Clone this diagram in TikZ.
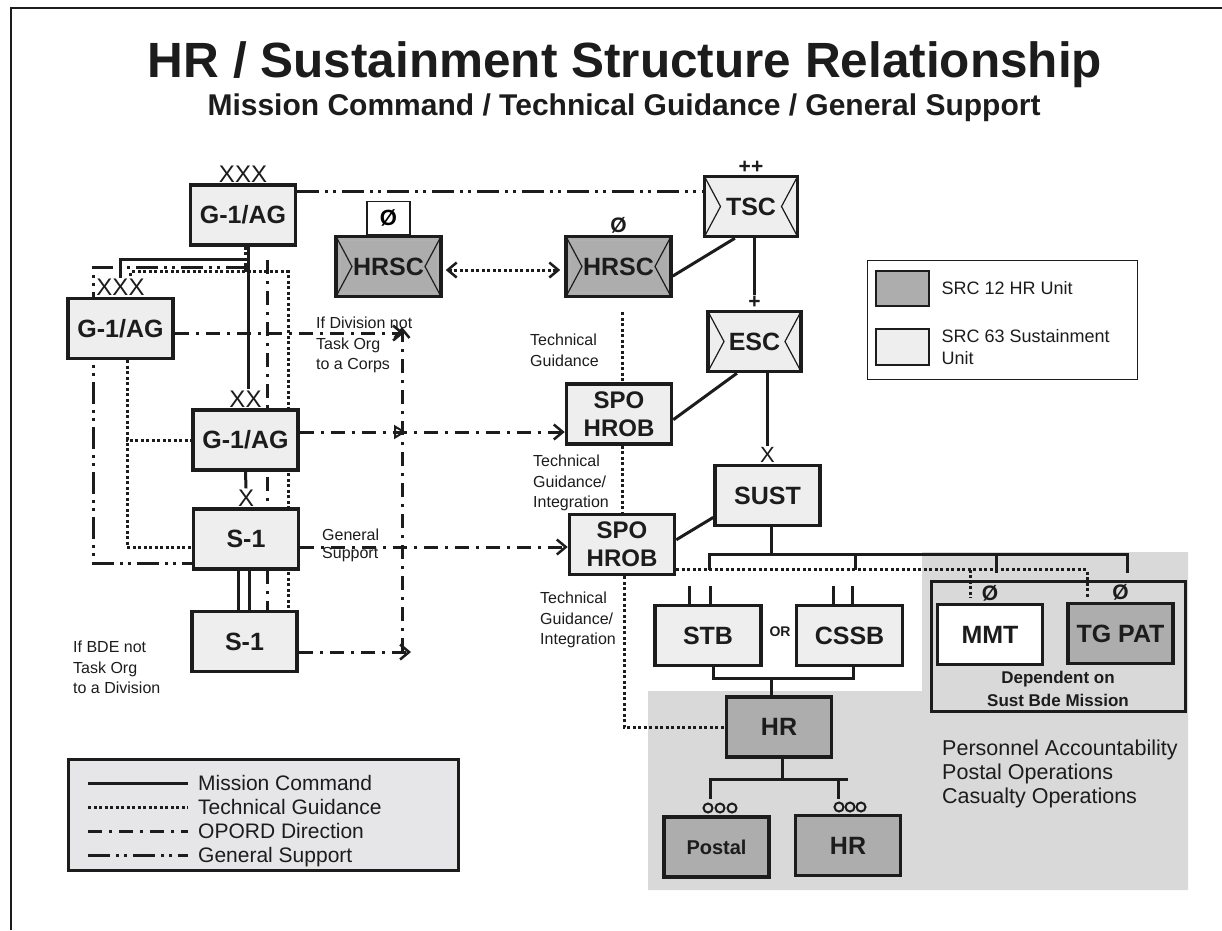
\documentclass[tikz,border=0pt]{standalone}
\usepackage{fontspec}
\setmainfont{Liberation Sans}
\usetikzlibrary{arrows.meta,positioning}
\definecolor{ink}{HTML}{1C1C1C}
\definecolor{boxlight}{HTML}{EEEEEE}
\definecolor{boxdark}{HTML}{ADADAD}
\definecolor{areagray}{HTML}{D9D9DA}
\definecolor{legfill}{HTML}{E6E6E8}
\pgfdeclarelayer{area}
\pgfdeclarelayer{links}
\pgfsetlayers{area,links,main}
\tikzset{
  >={Straight Barb[length=9pt,width=15pt,line width=2.5pt]},
  unit/.style={draw=ink,line width=3.5pt,fill=boxlight,text=ink,minimum width=105pt,minimum height=60pt,inner sep=0pt,align=center,font=\bfseries\fontsize{25}{28}\selectfont},
  hrunit/.style={unit,fill=boxdark},
  sustsym/.style={path picture={
    \draw[ink,line width=1.2pt] (path picture bounding box.north west) -- ([xshift=16pt]path picture bounding box.west) -- (path picture bounding box.south west)
      (path picture bounding box.north east) -- ([xshift=-16pt]path picture bounding box.east) -- (path picture bounding box.south east);}},
  hrscsym/.style={path picture={
    \draw[white!70!black,line width=1pt] ([shift={(4pt,-4pt)}]path picture bounding box.north west) rectangle ([shift={(-4pt,4pt)}]path picture bounding box.south east);
    \draw[ink,line width=1.2pt] (path picture bounding box.north west) -- ([xshift=16pt]path picture bounding box.west) -- (path picture bounding box.south west)
      (path picture bounding box.north east) -- ([xshift=-16pt]path picture bounding box.east) -- (path picture bounding box.south east);}},
  ech/.style={inner sep=1pt,text=ink,font=\fontsize{24}{24}\selectfont},
  echb/.style={inner sep=1pt,text=ink,font=\bfseries\fontsize{21}{21}\selectfont},
  note/.style={anchor=north west,align=left,inner sep=0pt,text=ink,font=\fontsize{16}{20.5}\selectfont},
  mc/.style={draw=ink,line width=3pt},
  tg/.style={draw=ink,line width=3pt,dash pattern=on 3pt off 2.5pt},
  opord/.style={draw=ink,line width=3pt,dash pattern=on 14pt off 7pt on 3pt off 7pt},
  gensup/.style={draw=ink,line width=3pt,dash pattern=on 22pt off 6pt on 3pt off 5pt on 3pt off 6pt},
}
\begin{document}
\begin{tikzpicture}[x=1pt,y=-1pt]
\useasboundingbox (0,0) rectangle (1222,930);
\draw[ink,line width=2pt] (11,930) -- (11,8) -- (1222,8);

\node[text=ink,font=\bfseries\fontsize{49.5}{54}\selectfont] (title) at (625,65) {HR / Sustainment Structure Relationship};
\node[text=ink,font=\bfseries\fontsize{30}{33}\selectfont] (subtitle) at (624,108) {Mission Command / Technical Guidance / General Support};

% staff sections
\node[unit] (g1corps) at (243,215) {G-1/AG};
\node[ech,above=0pt of g1corps] (g1corpsech) {XXX};
\node[unit] (g1left) at (120.5,328.5) {G-1/AG};
\node[ech,above=0pt of g1left] (g1leftech) {XXX};
\node[unit] (g1div) at (245.5,440) {G-1/AG};
\node[ech,above=0pt of g1div] (g1divech) {XX};
\node[unit] (s1) at (246,539) {S-1};
\node[ech,above=0pt of s1] (s1ech) {X};
\node[unit] (s1low) at (244.5,641.5) {S-1};

% HR / sustainment units
\node[hrunit,hrscsym] (hrscleft) at (388.5,266.5) {HRSC};
\node[draw=ink,line width=1.2pt,fill=white,minimum width=43pt,minimum height=33pt,inner sep=0pt,font=\bfseries\fontsize{22}{22}\selectfont,above=0pt of hrscleft] (hrscleftid) {Ø};
\node[hrunit,hrscsym] (hrscright) at (618.5,266.5) {HRSC};
\node[echb,above=0pt of hrscright] (hrscrightid) {Ø};
\node[unit,sustsym,minimum width=93pt] (tsc) at (751,206.5) {TSC};
\node[echb,above=0pt of tsc] (tscech) {++};
\node[unit,sustsym,minimum width=93pt] (esc) at (754.5,341.5) {ESC};
\node[echb,above=0pt of esc] (escech) {+};
\node[unit,font=\bfseries\fontsize{24}{28}\selectfont] (spoup) at (619,414) {SPO\\HROB};
\node[unit,font=\bfseries\fontsize{24}{28}\selectfont] (spolow) at (622,544.5) {SPO\\HROB};
\node[unit] (sust) at (767.5,495.5) {SUST};
\node[ech,font=\fontsize{22}{22}\selectfont,above=0pt of sust] (sustech) {X};
\node[unit,minimum width=106pt] (stb) at (708,635.5) {STB};
\node[unit,minimum width=106pt] (cssb) at (849.5,635.5) {CSSB};
\node[text=ink,font=\bfseries\fontsize{14}{14}\selectfont] (ortxt) at (780,632) {OR};
\node[hrunit] (hr) at (779,727) {HR};
\node[hrunit,font=\bfseries\fontsize{20}{22}\selectfont] (postal) at (716.5,847) {Postal};
\node[hrunit] (hrsmall) at (848,845.5) {HR};
\foreach \cx in {708,720,732} \draw[ink,line width=2pt] (\cx,808) circle (4.5pt);
\foreach \cx in {839,850,861} \draw[ink,line width=2pt] (\cx,807) circle (4.5pt);

% sust bde mission box
\node[draw=ink,line width=3pt,minimum width=254pt,minimum height=130pt] (bdebox) at (1058.5,646.5) {};
\node[unit,fill=white] (mmt) at (990,634.5) {MMT};
\node[hrunit] (tgpat) at (1120.5,633.5) {TG PAT};
\node[echb,above=0pt of mmt] (mmtid) {Ø};
\node[echb,above=0pt of tgpat] (tgpatid) {Ø};
\node[text=ink,align=center,font=\bfseries\fontsize{17}{23}\selectfont] (dependnote) at (1058,689) {Dependent on\\Sust Bde Mission};
\node[anchor=north west,align=left,inner sep=0pt,text=ink,font=\fontsize{21.5}{24}\selectfont] (hrtasks) at (942,740) {Personnel Accountability\\Postal Operations\\Casualty Operations};

% unit key
\node[draw=ink,line width=1pt,fill=white,minimum width=270pt,minimum height=119pt] (key) at (1002.5,320) {};
\node[hrunit,line width=2pt,minimum width=53pt,minimum height=35pt] (keyhr) at (902.5,288.5) {};
\node[text=ink,font=\fontsize{18}{22}\selectfont,right=8pt of keyhr] (keyhrtxt) {SRC 12 HR Unit};
\node[unit,line width=2pt,minimum width=53pt,minimum height=36pt] (keysust) at (902.5,347) {};
\node[align=left,text=ink,font=\fontsize{18}{22}\selectfont,right=8pt of keysust] (keysusttxt) {SRC 63 Sustainment\\Unit};

% line key
\node[draw=ink,line width=3.5pt,fill=legfill,minimum width=390pt,minimum height=111pt] (legend) at (263.5,815) {};
\foreach \ly/\lsty/\ltxt in {783/mc/Mission Command,807/tg/Technical Guidance,831/opord/OPORD Direction,855/gensup/General Support}{
  \draw[\lsty] (88,\ly) -- (188,\ly);
  \node[anchor=base west,inner sep=0pt,text=ink,font=\fontsize{21}{21}\selectfont] (legtxt\ly) at (198,\ly+7.5) {\ltxt};
}

% notes
\node[note] (divnote) at (316,317) {If Division not\\Task Org\\to a Corps};
\node[note] (tgnote) at (530,334) {Technical\\Guidance};
\node[note] (tgintup) at (533,455) {Technical\\Guidance/\\Integration};
\node[note] (tgintlow) at (540,592) {Technical\\Guidance/\\Integration};
\node[note,font=\fontsize{16}{18}\selectfont] (gsnote) at (322,529) {General\\Support};
\node[note] (bdenote) at (73,641) {If BDE not\\Task Org\\to a Division};

\begin{pgfonlayer}{area}
\fill[areagray] (648,691) -- (922,691) -- (922,552) -- (1188,552) -- (1188,890) -- (648,890) -- cycle;
\end{pgfonlayer}

\begin{pgfonlayer}{links}
% mission command
\draw[mc] (g1corps.south) ++(5,0) coordinate (mcsplit) -- (mcsplit |- g1divech.north);
\draw[mc] (mcsplit) ++(0,13) coordinate (mcbar) -| (g1leftech.north);
\draw[mc] (g1div.south) -- (s1ech.north);
\draw[mc] ([xshift=-8pt]s1.south) -- ([xshift=-8pt]s1.south |- s1low.north);
\draw[mc] ([xshift=3pt]s1.south) -- ([xshift=3pt]s1.south |- s1low.north);
\draw[mc] (escech.north |- tsc.south) -- (escech.north);
\draw[mc] (hrscright.-10) -- (tsc.-117);
\draw[mc] (spoup.-6) -- (esc.-119);
\draw[mc] (sustech.north |- esc.south) -- (sustech.north);
\draw[mc] (spolow.5) -- (sust.202);
\coordinate (sbar) at (771,554);
\coordinate (stbtick) at (709,570);
\coordinate (cssbtick) at (855,570);
\coordinate (mmttick) at (996,573);
\coordinate (tgtick) at (1127,573);
\draw[mc] (sbar |- sust.south) -- (sbar);
\draw[mc] (stbtick) |- (tgtick |- sbar) -- (tgtick);
\draw[mc] (cssbtick |- sbar) -- (cssbtick);
\draw[mc] (mmttick |- sbar) -- (mmttick);
\draw[mc] ([xshift=-19pt]stb.north) -- ++(0,-18);
\draw[mc] ([xshift=2pt]stb.north) -- ++(0,-18);
\draw[mc] ([xshift=-16.5pt]cssb.north) -- ++(0,-18);
\draw[mc] ([xshift=2.5pt]cssb.north) -- ++(0,-18);
\draw[mc] ([xshift=5pt]stb.south) -- ++(0,11) coordinate (orbar) -| ([xshift=3.5pt]cssb.south);
\draw[mc] (orbar -| sbar) -- (sbar |- hr.north);
\coordinate (hrbar) at (782,779);
\coordinate (postaltick) at (710,799);
\coordinate (hrtick) at (838,799);
\draw[mc] (hrbar |- hr.south) -- (hrbar);
\draw[mc] (postaltick) |- ([xshift=66pt]hrbar);
\draw[mc] (hrtick |- hrbar) -- (hrtick);
% technical guidance
\draw[tg,<->,shorten <=3pt,shorten >=4pt] ([yshift=-3.5pt]hrscleft.east) -- ([yshift=-3.5pt]hrscright.west);
\draw[tg,shorten <=14pt] ([xshift=3.5pt]hrscright.south) -- ([xshift=3.5pt]hrscright.south |- spoup.north);
\draw[tg] ([xshift=3pt]spoup.south) -- ([xshift=3pt]spoup.south |- spolow.north);
\draw[tg] ([xshift=2pt]spolow.south) |- (hr.west);
\coordinate (mmtdot) at (970,598);
\coordinate (tgpatdot) at (1087,598);
\draw[tg] (spolow.-25) -| (tgpatdot);
\draw[tg] (mmtdot |- spolow.-25) -- (mmtdot);
\draw[tg] ([xshift=2pt]g1corps.south) -- ++(0,25) coordinate (tgsplit) -| ([xshift=43.5pt]s1low.north);
\draw[tg] (tgsplit) -| ([xshift=10pt]g1leftech.north);
\draw[tg] ([xshift=6.5pt]g1left.south) |- ([yshift=-8pt]s1.west);
\draw[tg] ([xshift=6.5pt]g1left.south) |- (g1div.west);
% opord direction
\coordinate (divnot) at (404,333);
\coordinate (bdenot) at (411,652);
\draw[opord,->] (g1left.east |- divnot) -- (divnot);
\draw[opord,->] (s1low.east |- bdenot) -- (bdenot);
\draw[opord,->] ([xshift=-9pt]bdenot) -- ([xshift=-2pt,yshift=6pt]divnot);
\draw[opord,->] ([yshift=8pt]g1div.east) coordinate (ordfrom) -- ([yshift=-18pt]spoup.west);
\draw[opord,-{Triangle[open,length=12pt,width=14pt,line width=2pt]}] (ordfrom) -- ([xshift=2pt]ordfrom -| divnot);
\draw[opord,->] ([yshift=-8pt]s1.east) -- ([yshift=-2.5pt]spolow.west);
\draw[opord] ([xshift=19pt]mcbar) -- ([xshift=19pt]mcbar |- s1low.north);
% general support
\coordinate (gsturn) at (93,267);
\draw[gensup] ([yshift=24pt]g1corps.east) -- ([yshift=15.5pt]tsc.west);
\draw[gensup] (mcsplit |- gsturn) -- (gsturn) |- ([yshift=-24pt]s1.west);
\end{pgfonlayer}
\end{tikzpicture}
\end{document}
